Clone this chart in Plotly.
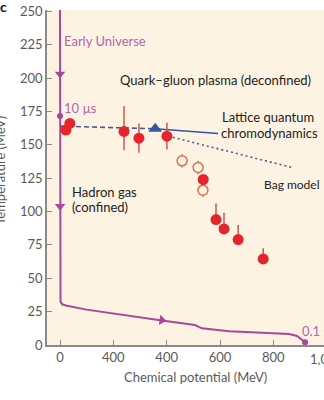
import plotly.graph_objects as go

# ---------------- data ----------------
# Early-Universe trajectory (chemical potential MeV, temperature MeV)
univ_mu = [0, 0, 2, 8, 26, 100, 200, 382, 506, 532, 634, 757, 859, 889, 905, 919]
univ_T = [252, 36, 32.5, 30.5, 29.4, 26.5, 23.5, 18.4, 15, 12.5, 10.3, 9.2, 8.2, 6.8, 4.5, 2]
arrow_down_mu = [0, 0]
arrow_down_T = [203, 104]
arrow_right_mu = [382]
arrow_right_T = [18.6]
dot_mu = [0, 919]
dot_T = [171.5, 2]

# Lattice QCD (dashed extrapolation + solid) and bag model (dotted)
lqcd_dash_mu = [0, 120, 240, 357]
lqcd_dash_T = [164, 163.5, 162.5, 162]
lqcd_solid_mu = [357, 450, 593]
lqcd_solid_T = [162, 160.5, 158.5]
bag_mu = [405, 640, 870]
bag_T = [156.5, 144.5, 133]
lqcd_point_mu = [357]
lqcd_point_T = [162]

# Freeze-out points (filled)
fill_mu = [22, 37, 240, 296, 401, 537, 585, 615, 668, 762]
fill_T = [161, 166, 160, 155, 156.5, 124, 94, 87, 79, 64.5]
fill_err_plus = [0, 0, 19, 11, 10, 0, 12, 12, 11, 8]
fill_err_minus = [0, 0, 14, 11, 10, 0, 3, 3, 3, 3]
fill_err_mu = [0, 0, 14, 14, 14, 0, 0, 0, 0, 0]
# Freeze-out points (open)
open_mu = [458, 518, 536]
open_T = [138, 133, 116]
open_err = [5, 5, 5]

# axis ticks
x_tickvals = [0, 200, 400, 600, 800, 1000]
x_ticktext = ["0", "400", "400", "600", "800", "1,000"]
y_tickvals = [0, 25, 50, 75, 100, 125, 150, 175, 200, 225, 250]
y_ticktext = [str(v) for v in y_tickvals]

# ---------------- styles ----------------
PURPLE = "#A9479C"
PURPLE_TXT = "#B565A9"
RED = "#E4252B"
RED_BAR = "#C85A4C"
OPEN_RED = "#DF6E4A"
BLUE = "#3454A4"
DASH_BLUE = "#4D5B86"
BG = "#FDF3E3"
AXIS = "#8A8A8A"
TICK_TXT = "#5A5A5A"
FONT = "Lato"

fig = go.Figure()

fig.add_trace(go.Scatter(x=univ_mu, y=univ_T, mode="lines",
                         line=dict(color=PURPLE, width=2), hoverinfo="skip"))
fig.add_trace(go.Scatter(x=lqcd_dash_mu, y=lqcd_dash_T, mode="lines",
                         line=dict(color=DASH_BLUE, width=1.6, dash="5px,3px")))
fig.add_trace(go.Scatter(x=lqcd_solid_mu, y=lqcd_solid_T, mode="lines",
                         line=dict(color=BLUE, width=1.4)))
fig.add_trace(go.Scatter(x=bag_mu, y=bag_T, mode="lines",
                         line=dict(color=DASH_BLUE, width=1.6, dash="2px,3px")))

fig.add_trace(go.Scatter(x=arrow_down_mu, y=arrow_down_T, mode="markers",
                         marker=dict(symbol="triangle-down", size=9, color=PURPLE)))
fig.add_trace(go.Scatter(x=arrow_right_mu, y=arrow_right_T, mode="markers",
                         marker=dict(symbol="triangle-right", size=9, color=PURPLE, angle=8)))
fig.add_trace(go.Scatter(x=dot_mu, y=dot_T, mode="markers",
                         marker=dict(symbol="circle", size=6, color=PURPLE)))

fig.add_trace(go.Scatter(
    x=open_mu, y=open_T, mode="markers",
    marker=dict(symbol="circle", size=10, color=BG, line=dict(color=OPEN_RED, width=1.5)),
    error_y=dict(type="data", array=open_err, color=OPEN_RED, thickness=1.5, width=0)))

fig.add_trace(go.Scatter(
    x=fill_mu, y=fill_T, mode="markers",
    marker=dict(symbol="circle", size=11, color=RED),
    error_y=dict(type="data", symmetric=False, array=fill_err_plus, arrayminus=fill_err_minus,
                 color=RED_BAR, thickness=1.5, width=0),
    error_x=dict(type="data", array=fill_err_mu, color=RED_BAR, thickness=1.5, width=0)))

fig.add_trace(go.Scatter(x=lqcd_point_mu, y=lqcd_point_T, mode="markers",
                         marker=dict(symbol="triangle-up", size=12, color=BLUE)))

# ---------------- text ----------------
def label(x, y, text, color="#222222", size=13):
    fig.add_annotation(x=x, y=y, text=text, showarrow=False, xanchor="left", yanchor="middle",
                       font=dict(family=FONT, size=size, color=color))

label(8, 227.5, "Early Universe", PURPLE_TXT)
label(8, 177.5, "10 µs", PURPLE_TXT)
label(218, 198.5, "Quark–gluon plasma (deconfined)")
label(600, 170.8, "Lattice quantum")
label(596, 158.8, "chromodynamics")
label(757, 120.6, "Bag model", size=12)
label(38, 114.6, "Hadron gas")
label(38, 103.4, "(confined)")
label(900, 10.5, "0.1 s", PURPLE_TXT)

fig.add_annotation(xref="paper", yref="paper", x=0.5 + 10 / 277, y=-0.095, text="Chemical potential (MeV)",
                   showarrow=False, xanchor="center", yanchor="middle",
                   font=dict(family=FONT, size=13, color=TICK_TXT))
fig.add_annotation(xref="paper", yref="paper", x=1 + 3 / 277, y=0, yshift=-4, text=x_ticktext[-1],
                   showarrow=False, xanchor="center", yanchor="top",
                   font=dict(family=FONT, size=13, color=TICK_TXT))
fig.add_annotation(xref="paper", yref="paper", x=-47 / 277, y=0.52, text="Temperature (MeV)",
                   textangle=-90, showarrow=False, xanchor="center", yanchor="middle",
                   font=dict(family=FONT, size=13, color=TICK_TXT))
fig.add_annotation(xref="paper", yref="paper", x=-43 / 277, y=1.01, text="<b>c</b>",
                   showarrow=False, xanchor="center", yanchor="middle",
                   font=dict(family=FONT, size=14, color="#111111"))

fig.update_layout(
    width=324, height=400,
    margin=dict(l=47, r=0, t=10, b=55, autoexpand=False),
    paper_bgcolor="white", plot_bgcolor=BG,
    showlegend=False,
    font=dict(family=FONT, size=13, color=TICK_TXT),
)
fig.update_xaxes(range=[-48.75, 990], tickvals=x_tickvals[:-1], ticktext=x_ticktext[:-1],
                 ticks="inside", ticklen=5, tickcolor=AXIS, tickwidth=1.2,
                 showline=True, linecolor=AXIS, linewidth=1.5, showgrid=False, zeroline=False,
                 automargin=False, tickfont=dict(family=FONT, size=13, color=TICK_TXT))
fig.update_yaxes(range=[0, 251], tickvals=y_tickvals, ticktext=y_ticktext,
                 ticks="inside", ticklen=5, tickcolor=AXIS, tickwidth=1.2,
                 showline=True, linecolor=AXIS, linewidth=1.5, showgrid=False, zeroline=False,
                 automargin=False, tickfont=dict(family=FONT, size=13, color=TICK_TXT))

fig.write_html("out.html")
